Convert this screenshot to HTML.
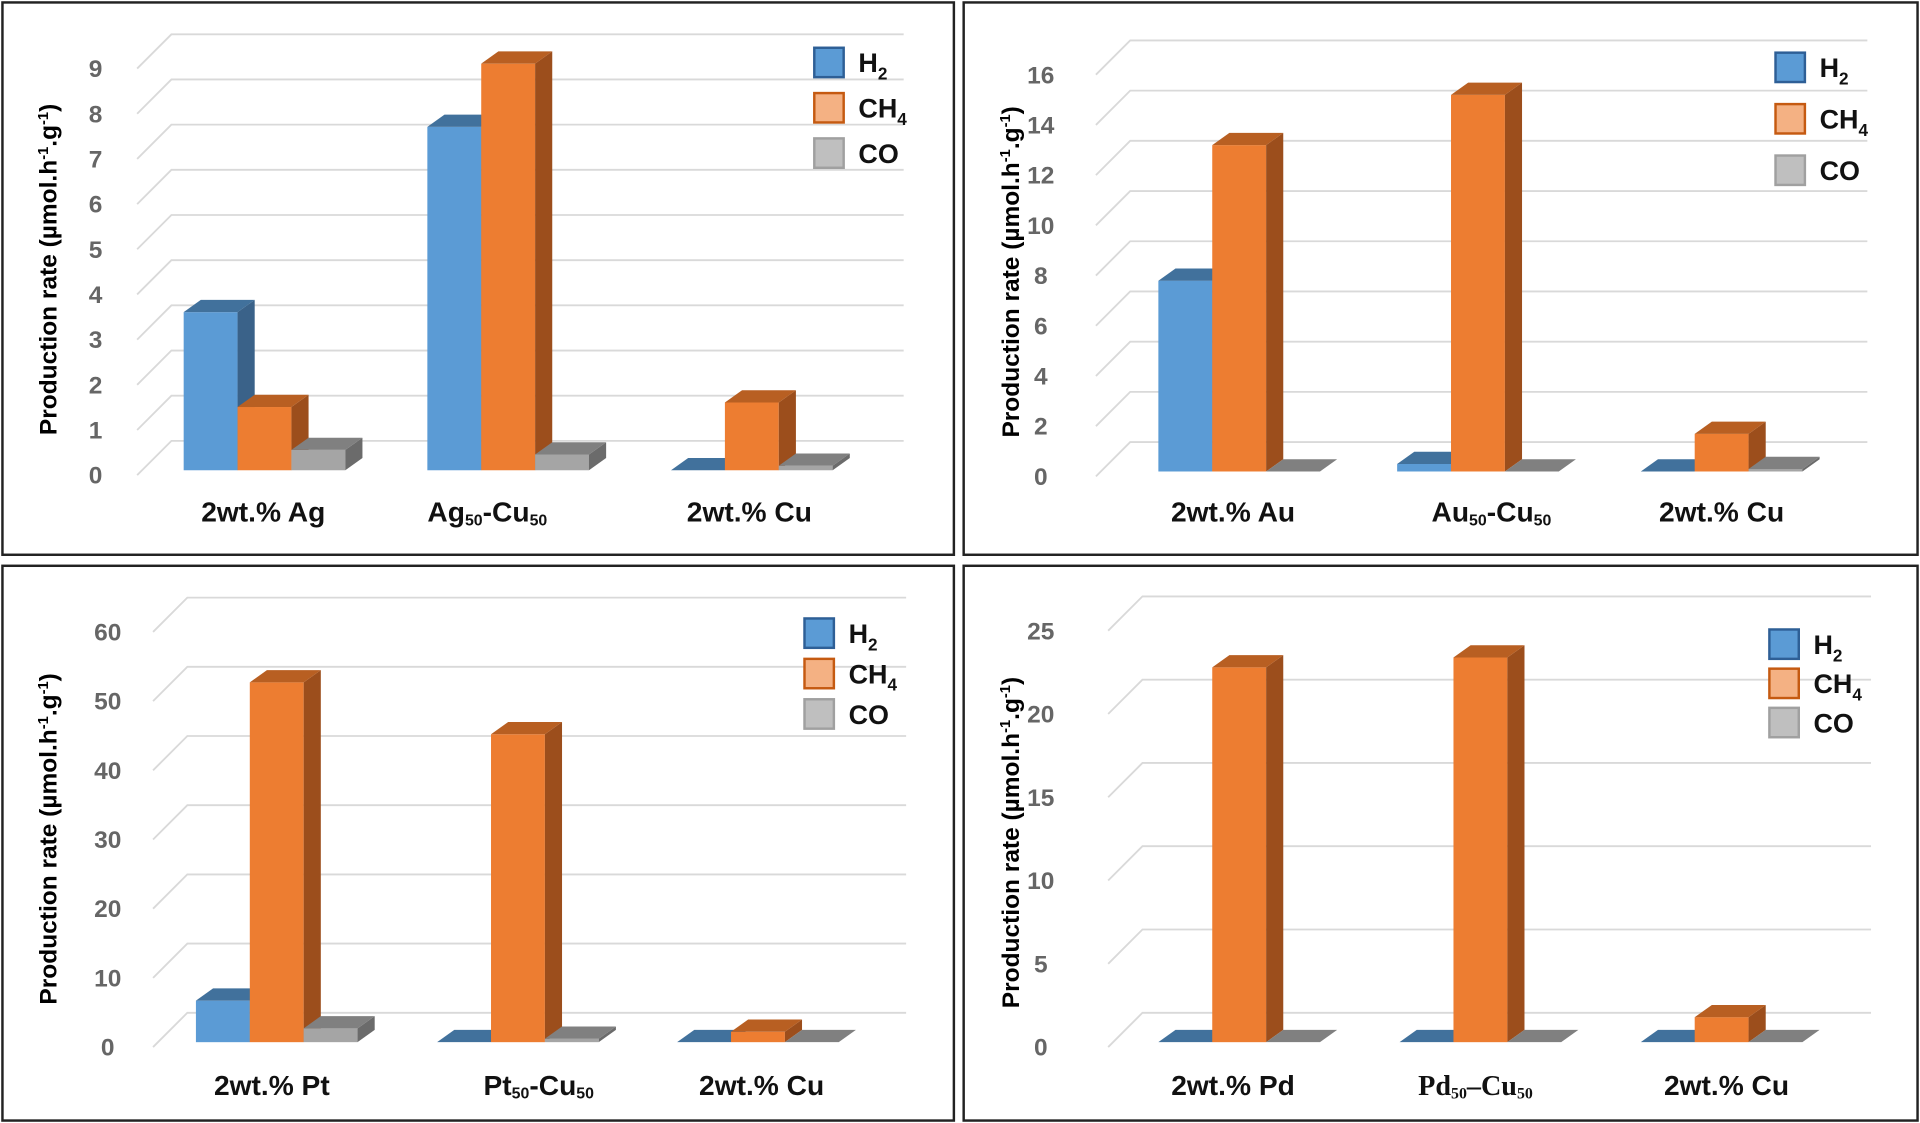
<!DOCTYPE html>
<html><head><meta charset="utf-8"><style>
html,body{margin:0;padding:0;background:#fff}
svg{display:block}
text{font-family:"Liberation Sans",Arial,sans-serif}
</style></head><body>
<svg id="s" width="1920" height="1123" viewBox="0 0 1568 917" preserveAspectRatio="none" xmlns="http://www.w3.org/2000/svg">
<rect x="0" y="0" width="1568" height="917" fill="#fff"/>
<rect x="2" y="2" width="777" height="451" fill="none" stroke="#222" stroke-width="2"/>
<rect x="787" y="2" width="779" height="451" fill="none" stroke="#222" stroke-width="2"/>
<rect x="2" y="462" width="777" height="453" fill="none" stroke="#222" stroke-width="2"/>
<rect x="787" y="462" width="779" height="453" fill="none" stroke="#222" stroke-width="2"/>
</svg>
<script>
const S=document.getElementById('s');const NS='http://www.w3.org/2000/svg';
function el(t,a,txt){const e=document.createElementNS(NS,t);for(const k in a)e.setAttribute(k,a[k]);if(txt!=null)e.textContent=txt;S.appendChild(e);return e;}
const C=[['#5b9bd5','#41719c','#3a6289'],['#ed7d31','#b85f22','#9c4e1c'],['#a5a5a5','#808080','#6b6b6b']];
function panel(p){
 const k=(p.base-p.top)/p.max;
 for(let v=0;v<=p.max;v+=p.step){
  const fy=p.base-v*k;
  el('polyline',{points:`${p.x0},${fy+4} ${p.x0+28},${fy-24} ${p.xe},${fy-24}`,fill:'none',stroke:'#d9d9d9','stroke-width':1.5});
  el('text',{x:p.tx,y:fy+11,'text-anchor':'middle','font-size':20,'font-weight':'bold',fill:'#666'},String(v));
 }
 const w=44,dx=14,dy=10;
 p.groups.forEach((g,gi)=>{
  g.forEach((v,si)=>{
   const x=p.gx[gi]+si*w, t=p.base-v*k, b=p.base, c=C[si];
   if(b-t>0.5)el('rect',{x:x,y:t,width:w,height:b-t,fill:c[0]});
   el('polygon',{points:`${x+w},${t} ${x+w+dx},${t-dy} ${x+w+dx},${b-dy} ${x+w},${b}`,fill:c[2]});
   el('polygon',{points:`${x},${t} ${x+dx},${t-dy} ${x+w+dx},${t-dy} ${x+w},${t}`,fill:c[1]});
  });
 });
 const t=el('text',{x:0,y:0,'font-size':20,'font-weight':'bold',fill:'#000','text-anchor':'middle',transform:`translate(${p.ax},${p.ay}) rotate(-90)`});
 t.innerHTML='Production rate (µmol.h<tspan font-size="12" dy="-7">-1</tspan><tspan dy="7">.g</tspan><tspan font-size="12" dy="-7">-1</tspan><tspan dy="7">)</tspan>';
 p.labels.forEach((l,i)=>{const e=el('text',{x:l[0],y:p.ly,'text-anchor':'middle','font-size':23,'font-weight':'bold',fill:'#111'});e.innerHTML=l[1];});
 const L=[['#5b9bd5','#2e5f96','H<tspan font-size="14" dy="6">2</tspan>'],['#f4b183','#c55a11','CH<tspan font-size="14" dy="6">4</tspan>'],['#bfbfbf','#a0a0a0','CO']];
 L.forEach((l,i)=>{const y=p.lg[1]+i*p.lg[2];
  el('rect',{x:p.lg[0],y:y,width:24,height:24,fill:l[0],stroke:l[1],'stroke-width':2});
  const e=el('text',{x:p.lg[0]+36,y:y+20,'font-size':22,'font-weight':'bold',fill:'#111'});e.innerHTML=l[2];});
}
const sub=(a,b,c)=>`${a}<tspan font-size="13" dy="3">50</tspan><tspan dy="-3">${b}</tspan><tspan font-size="13" dy="3">50</tspan>`;
panel({x0:112,xe:738,base:384,top:52,max:9,step:1,tx:78,ax:46,ay:220,
 gx:[150,349,548],groups:[[3.5,1.4,0.45],[7.6,9.0,0.35],[0,1.5,0.1]],ly:426,
 labels:[[215,'2wt.% Ag'],[398,sub('Ag','-Cu')],[612,'2wt.% Cu']],lg:[665,39,37]});
panel({x0:895,xe:1525,base:385,top:57,max:16,step:2,tx:850,ax:832,ay:222,
 gx:[946,1141,1340],groups:[[7.6,13,0],[0.3,15,0],[0,1.5,0.1]],ly:426,
 labels:[[1007,'2wt.% Au'],[1218,sub('Au','-Cu')],[1406,'2wt.% Cu']],lg:[1450,43,42]});
panel({x0:125,xe:740,base:851,top:512,max:60,step:10,tx:88,ax:46,ay:685,
 gx:[160,357,553],groups:[[6,52,2],[0,44.5,0.5],[0,1.5,0]],ly:894,
 labels:[[222,'2wt.% Pt'],[440,sub('Pt','-Cu')],[622,'2wt.% Cu']],lg:[657,505,33]});
panel({x0:905,xe:1528,base:851,top:511,max:25,step:5,tx:850,ax:832,ay:688,
 gx:[946,1143,1340],groups:[[0,22.5,0],[0,23.1,0],[0,1.5,0]],ly:894,
 labels:[[1007,'2wt.% Pd'],[1205,'<tspan font-family="Liberation Serif" font-weight="bold">Pd<tspan font-size="13" dy="3">50</tspan><tspan dy="-3">–Cu</tspan><tspan font-size="13" dy="3">50</tspan></tspan>'],[1410,'2wt.% Cu']],lg:[1445,514,32]});
</script>
</body></html>
